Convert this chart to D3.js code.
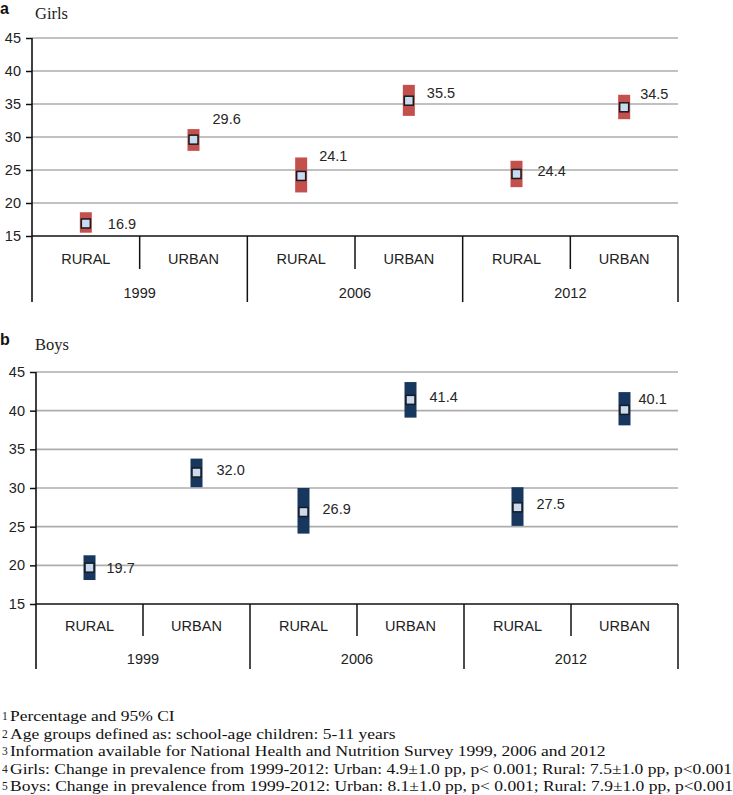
<!DOCTYPE html>
<html>
<head>
<meta charset="utf-8">
<script src="https://cdn.jsdelivr.net/npm/d3@7"></script>
<style>
  html, body { margin: 0; padding: 0; background: #fff; }
  svg { display: block; }
</style>
</head>
<body>
<svg id="chart" width="733" height="795"></svg>
<script>
// ---------------- DATA ----------------
const years = ["1999", "2006", "2012"];
const areas = ["RURAL", "URBAN"];
const yTicks = [15, 20, 25, 30, 35, 40, 45];

const girlsValue = [16.9, 29.6, 24.1, 35.5, 24.4, 34.5];
const girlsLower = [15.5, 27.9, 21.6, 33.2, 22.4, 32.7];
const girlsUpper = [18.6, 31.2, 26.9, 37.9, 26.4, 36.4];

const boysValue = [19.7, 32.0, 26.9, 41.4, 27.5, 40.1];
const boysLower = [18.1, 30.1, 24.1, 39.1, 25.1, 38.1];
const boysUpper = [21.3, 33.8, 30.0, 43.7, 30.1, 42.4];

const footnoteNums = ["1", "2", "3", "4", "5"];
const footnotes = [
  "Percentage and 95% CI",
  "Age groups defined as: school-age children: 5-11 years",
  "Information available for National Health and Nutrition Survey 1999, 2006 and 2012",
  "Girls: Change in prevalence from 1999-2012: Urban: 4.9\u00b11.0 pp, p< 0.001; Rural: 7.5\u00b11.0 pp, p<0.001",
  "Boys: Change in prevalence from 1999-2012: Urban: 8.1\u00b11.0 pp, p< 0.001; Rural: 7.9\u00b11.0 pp, p<0.001"
];

// ---------------- LAYOUT ----------------
const girlsLabelOffset = [[22, 0], [19, -21], [18, -20], [18, -8], [21, -3], [16, -13]];
const boysLabelOffset  = [[17, 0], [20, -3], [19, -3], [19, -3], [19, -3], [14, -11]];

const svg = d3.select("#chart");
const sans = "'Liberation Sans', Arial, sans-serif";
const serif = "'Liberation Serif', 'Times New Roman', serif";

const cats = [];
years.forEach(y => areas.forEach(a => cats.push(y + "|" + a)));

function drawPanel(p) {
  const g = svg.append("g");
  const x = d3.scaleBand().domain(cats).range([p.left, p.right]).padding(0);
  const xYear = d3.scaleBand().domain(years).range([p.left, p.right]).padding(0);
  const y = d3.scaleLinear().domain([15, 45]).range([p.bottom, p.top]);

  // panel letter and title
  g.append("text").attr("x", 0).attr("y", p.letterY)
    .attr("font-family", sans).attr("font-weight", "bold").attr("font-size", 16)
    .attr("fill", "#111").text(p.letter);
  g.append("text").attr("x", 35).attr("y", p.titleY)
    .attr("font-family", serif).attr("font-size", 16.5)
    .attr("fill", "#222").text(p.title);

  // gridlines
  g.append("g").selectAll("line").data(yTicks.filter(t => t > 15)).join("line")
    .attr("x1", p.left).attr("x2", p.right)
    .attr("y1", d => y(d)).attr("y2", d => y(d))
    .attr("stroke", "#adadad").attr("stroke-width", 1.6);

  // y axis
  const ax = g.append("g").attr("transform", `translate(${p.left},0)`)
    .call(d3.axisLeft(y).tickValues(yTicks).tickSize(6).tickPadding(5).tickFormat(d3.format("d")));
  ax.select(".domain").remove();
  ax.selectAll(".tick line").attr("stroke", "#111").attr("stroke-width", 1.5);
  ax.selectAll(".tick text").attr("font-family", sans).attr("font-size", 14.5).attr("fill", "#222");

  // axis lines (left + bottom)
  g.append("line").attr("x1", p.left).attr("x2", p.left)
    .attr("y1", y(45)).attr("y2", p.bottom + p.outerDepth)
    .attr("stroke", "#111").attr("stroke-width", 1.6);
  g.append("line").attr("x1", p.left).attr("x2", p.right)
    .attr("y1", y(15)).attr("y2", y(15))
    .attr("stroke", "#111").attr("stroke-width", 1.6);

  // inner separators (between RURAL/URBAN)
  years.forEach(yr => {
    const xs = x(yr + "|URBAN");
    g.append("line").attr("x1", xs).attr("x2", xs)
      .attr("y1", p.bottom).attr("y2", p.bottom + p.innerDepth)
      .attr("stroke", "#111").attr("stroke-width", 1.5);
  });
  // group separators
  years.forEach(yr => {
    const xe = xYear(yr) + xYear.bandwidth();
    g.append("line").attr("x1", xe).attr("x2", xe)
      .attr("y1", p.bottom).attr("y2", p.bottom + p.outerDepth)
      .attr("stroke", "#111").attr("stroke-width", 1.5);
  });

  // category labels
  g.append("g").selectAll("text").data(cats).join("text")
    .attr("x", d => x(d) + x.bandwidth() / 2)
    .attr("y", p.bottom + p.catDy)
    .attr("text-anchor", "middle").attr("font-family", sans).attr("font-size", 14.5)
    .attr("fill", "#222").text(d => d.split("|")[1]);
  g.append("g").selectAll("text").data(years).join("text")
    .attr("x", d => xYear(d) + xYear.bandwidth() / 2)
    .attr("y", p.bottom + p.yearDy)
    .attr("text-anchor", "middle").attr("font-family", sans).attr("font-size", 14.5)
    .attr("fill", "#222").text(d => d);

  // CI bars
  const barW = 12;
  const rows = cats.map((c, i) => ({ c, v: p.value[i], lo: p.lower[i], hi: p.upper[i], off: p.labelOffset[i] }));
  g.append("g").selectAll("rect").data(rows).join("rect")
    .attr("x", d => x(d.c) + x.bandwidth() / 2 - barW / 2)
    .attr("width", barW)
    .attr("y", d => y(d.hi))
    .attr("height", d => y(d.lo) - y(d.hi))
    .attr("fill", p.color);

  // markers
  const m = 9;
  g.append("g").selectAll("rect").data(rows).join("rect")
    .attr("x", d => x(d.c) + x.bandwidth() / 2 - m / 2)
    .attr("y", d => y(d.v) - m / 2)
    .attr("width", m).attr("height", m)
    .attr("fill", "#c9dbf1").attr("stroke", "#1a1a1a").attr("stroke-width", 1.5);

  // value labels
  g.append("g").selectAll("text").data(rows).join("text")
    .attr("x", d => x(d.c) + x.bandwidth() / 2 + d.off[0])
    .attr("y", d => y(d.v) + d.off[1])
    .attr("dy", "0.35em")
    .attr("font-family", sans).attr("font-size", 14.5).attr("fill", "#262626")
    .text(d => d3.format(".1f")(d.v));
}

drawPanel({
  letter: "a", letterY: 14, title: "Girls", titleY: 19,
  left: 32, right: 678, top: 38, bottom: 236,
  innerDepth: 33, outerDepth: 66, catDy: 28, yearDy: 62,
  value: girlsValue, lower: girlsLower, upper: girlsUpper,
  labelOffset: girlsLabelOffset, color: "#c4504e"
});

drawPanel({
  letter: "b", letterY: 345, title: "Boys", titleY: 350,
  left: 36, right: 678, top: 372, bottom: 604,
  innerDepth: 32, outerDepth: 65, catDy: 27, yearDy: 60,
  value: boysValue, lower: boysLower, upper: boysUpper,
  labelOffset: boysLabelOffset, color: "#17375e"
});

// footnotes (horizontally stretched serif, as in the reference)
const fn = svg.append("g");
footnotes.forEach((t, i) => {
  const yy = 721 + i * 17.6;
  fn.append("text").attr("x", 2).attr("y", yy - 1)
    .attr("font-family", serif).attr("font-size", 11.5).attr("fill", "#222")
    .text(footnoteNums[i]);
  fn.append("text")
    .attr("transform", `translate(10,${yy}) scale(1.13,1)`)
    .attr("font-family", serif).attr("font-size", 15.5).attr("fill", "#111")
    .text(t);
});
</script>
</body>
</html>
